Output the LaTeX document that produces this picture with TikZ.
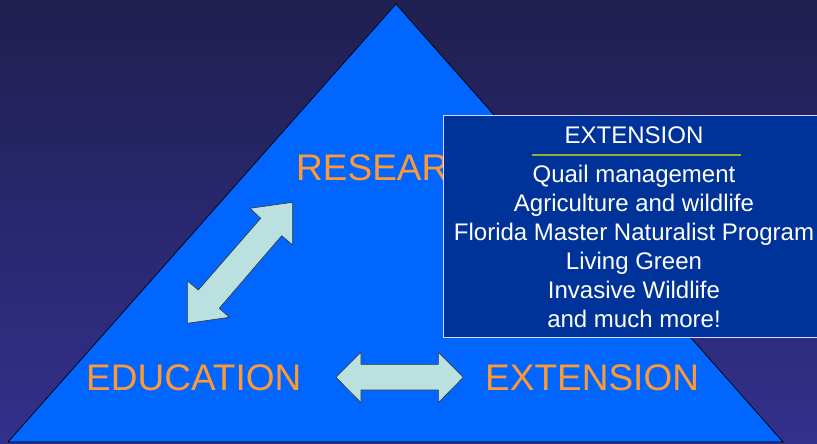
\documentclass[tikz,border=0pt]{standalone}
\usepackage{fontspec}
\setmainfont{Liberation Sans}
\definecolor{bgtop}{RGB}{31,31,80}
\definecolor{bgbot}{RGB}{51,48,140}
\definecolor{tri}{RGB}{0,102,255}
\definecolor{orangetxt}{RGB}{255,153,51}
\definecolor{boxfill}{RGB}{0,51,153}
\definecolor{arrowfill}{RGB}{187,224,224}
\definecolor{ruleolive}{RGB}{150,175,40}
\tikzset{
  bigtxt/.style={anchor=base west,inner sep=0pt,text=orangetxt,font=\fontsize{37}{44}\selectfont},
  boxtxt/.style={anchor=base,inner sep=0pt,text=white,font=\fontsize{24}{29}\selectfont},
  blockarrow/.style={fill=arrowfill,draw=black!80,line width=0.6pt,line join=miter},
}
\begin{document}
\begin{tikzpicture}[x=1pt,y=-1pt]
\useasboundingbox (0,0) rectangle (817,444);
\clip (0,0) rectangle (817,444);
\shade[top color=bgtop,bottom color=bgbot] (0,0) rectangle (817,444);
% triangle
\coordinate (apex) at (396,4);
\coordinate (bl) at (8,442);
\coordinate (br) at (783,442);
\draw[fill=tri,draw=black,line width=0.7pt] (apex) -- (br) -- (bl) -- cycle;
% labels
\node[bigtxt] (research) at (296,180) {RESEARCH};
\node[bigtxt] (education) at (86,390) {EDUCATION};
\node[bigtxt] (extension) at (485,390) {EXTENSION};
% diagonal double arrow
\draw[blockarrow] (250,208.3) -- (292.7,202.3) -- (292.7,245) -- (281.7,235.7)
  -- (219.3,308.3) -- (229.3,317.3) -- (187.3,323.3) -- (187.3,280.7)
  -- (198.3,290) -- (260.7,218.3) -- cycle;
% horizontal double arrow
\draw[blockarrow] (336,377.3) -- (361,352.3) -- (361,364.3) -- (438.3,364.3)
  -- (438.3,352.3) -- (463.3,377.3) -- (438.3,402.7) -- (438.3,390)
  -- (361,390) -- (361,402.7) -- cycle;
% info box
\node[draw=white!85!blue,fill=boxfill,line width=0.8pt,minimum width=390pt,minimum height=222pt,anchor=north west,inner sep=0pt] (box) at (443,115) {};
\node[boxtxt] (title) at (634,143) {EXTENSION};
\coordinate (ruleL) at (532,155);
\coordinate (ruleR) at (741,155);
\draw[ruleolive,line width=1.3pt] (ruleL) -- (ruleR);
\node[boxtxt] (l1) at (634,182) {Quail management};
\node[boxtxt] (l2) at (634,211) {Agriculture and wildlife};
\node[boxtxt] (l3) at (634,240) {Florida Master Naturalist Program};
\node[boxtxt] (l4) at (634,269) {Living Green};
\node[boxtxt] (l5) at (634,298) {Invasive Wildlife};
\node[boxtxt] (l6) at (634,327) {and much more!};
\end{tikzpicture}
\end{document}
